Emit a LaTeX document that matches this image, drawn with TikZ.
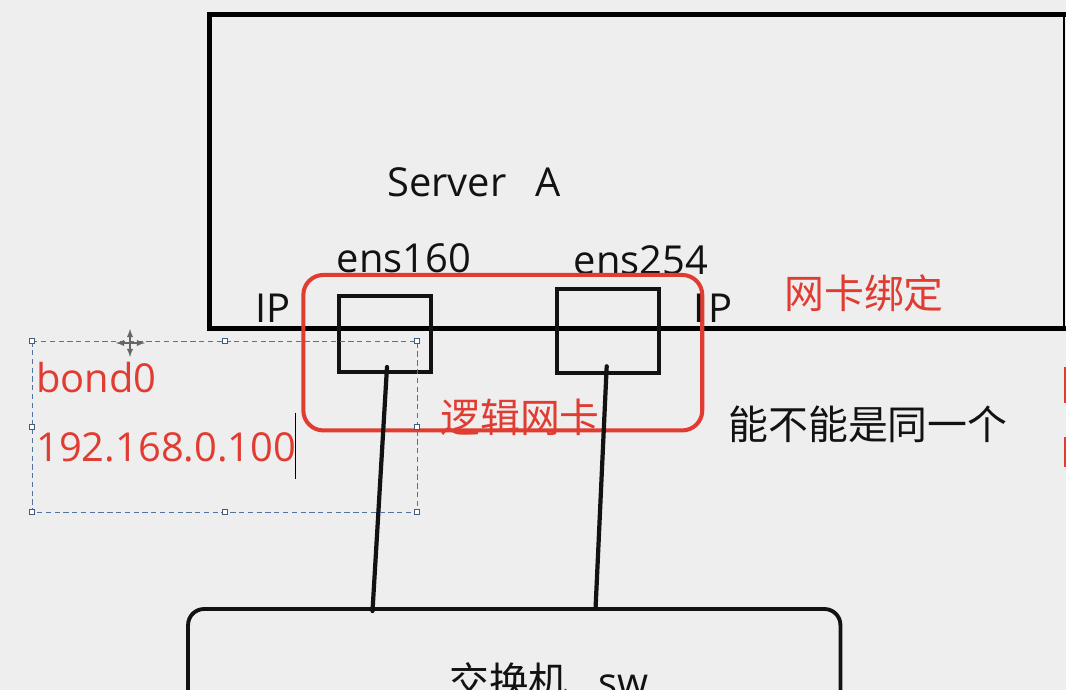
\documentclass[tikz,border=0pt]{standalone}
\usepackage{fontspec}
\setmainfont{Open Sans}
\newfontfamily\cjk{Noto Sans CJK SC}
\usepackage{tikz}
\usetikzlibrary{calc}
\usetikzlibrary{arrows}
\usetikzlibrary{positioning}
\definecolor{slidebg}{RGB}{238,238,238}
\definecolor{pptred}{RGB}{225,60,50}
\definecolor{selblue}{RGB}{80,115,160}

\begin{document}
\begin{tikzpicture}[x=0.02cm, y=-0.02cm,
    every node/.style={font=\fontsize{22.7}{27}\selectfont, inner sep=0pt, text=black!93},
    redtext/.style={text=pptred},
    nic/.style={draw=black!93, line width=2.3pt},
    cable/.style={draw=black!93, line width=2.4pt, line cap=round},
    handle/.style={draw=selblue!80!black, fill=white, line width=0.4pt, minimum size=0.1cm}]
  \fill[slidebg] (0,0) rectangle (1066,690);
  \useasboundingbox (0,0) rectangle (1066,690);
  \clip (0,0) rectangle (1066,690);

  % server
  \draw[line width=2.7pt] (1066,14.5) -| (209.5,328.5) -- (1066,328.5);
  \draw[line width=1.2pt] (1064,14.5) -- (1064,328.5);
  \node (server) at (474,182) {Server\hspace{0.72em}A};

  % the two nics
  \node[nic, minimum width=1.83cm, minimum height=1.52cm] (ens160) at (385,334) {};
  \node[nic, minimum width=2.05cm, minimum height=1.69cm] (ens254) at (608,331) {};
  \node (ens160lbl) at (404,258) {ens160};
  \node (ens254lbl) at (641,260) {ens254};
  \node (ipleft) at (273,308) {IP};

  % bond
  \node[draw=pptred, line width=2.3pt, rounded corners=0.4cm,
        minimum width=7.98cm, minimum height=3.11cm] (bond) at (502.8,352.7) {};
  \node (ipright) at (713,308) {I\hspace{0.12em}P};
  \node[redtext] (logiclbl) at (520,417) {\cjk 逻辑网卡};
  \node[redtext] (bindlbl) at (864,293) {\cjk 网卡绑定};
  \node (samelbl) at (868,424) {\cjk 能不能是同一个};

  % switch
  \node[draw=black!93, line width=2.2pt, rounded corners=0.32cm,
        minimum width=13.05cm, minimum height=3.02cm] (sw) at (514.25,684.5) {};
  \node (swlbl) at (549,681) {{\cjk 交换机}\hspace{0.75em}sw};

  \draw[cable] ($(ens160.south)+(2,-7)$) -- ($(sw.north west)!0.284!(sw.north east)+(0,4)$);
  \draw[cable] ($(ens254.south)+(-1.3,-9)$) -- ($(sw.north west)!0.624!(sw.north east)$);

  % selected text box
  \draw[selblue, line width=0.6pt, dash pattern=on 3pt off 2pt] (32.3,341.3) rectangle (417.3,512.3);
  \foreach \hx/\hy [count=\i] in {32.3/341.3, 224.8/341.3, 417.3/341.3, 32.3/426.8,
                                   417.3/426.8, 32.3/512.3, 224.8/512.3, 417.3/512.3}
    \node[handle] (handle\i) at (\hx,\hy) {};
  \node[redtext, anchor=west] (bondlbl) at (36,378) {bond0};
  \node[redtext, anchor=west] (iplbl) at (36,447) {192.168.0.100};
  \draw[line width=0.6pt] (295.3,412.7) -- (295.3,479.3);
  \draw[black!60, line width=0.6pt, <->, >=latex] (116,343) -- (145,343);
  \draw[black!60, line width=0.6pt, <->, >=latex] (130,329) -- (130,357);

  % edge marks
  \fill[pptred] (1063.5,367) rectangle (1066,403);
  \fill[pptred] (1063.5,437) rectangle (1066,467);
\end{tikzpicture}
\end{document}
